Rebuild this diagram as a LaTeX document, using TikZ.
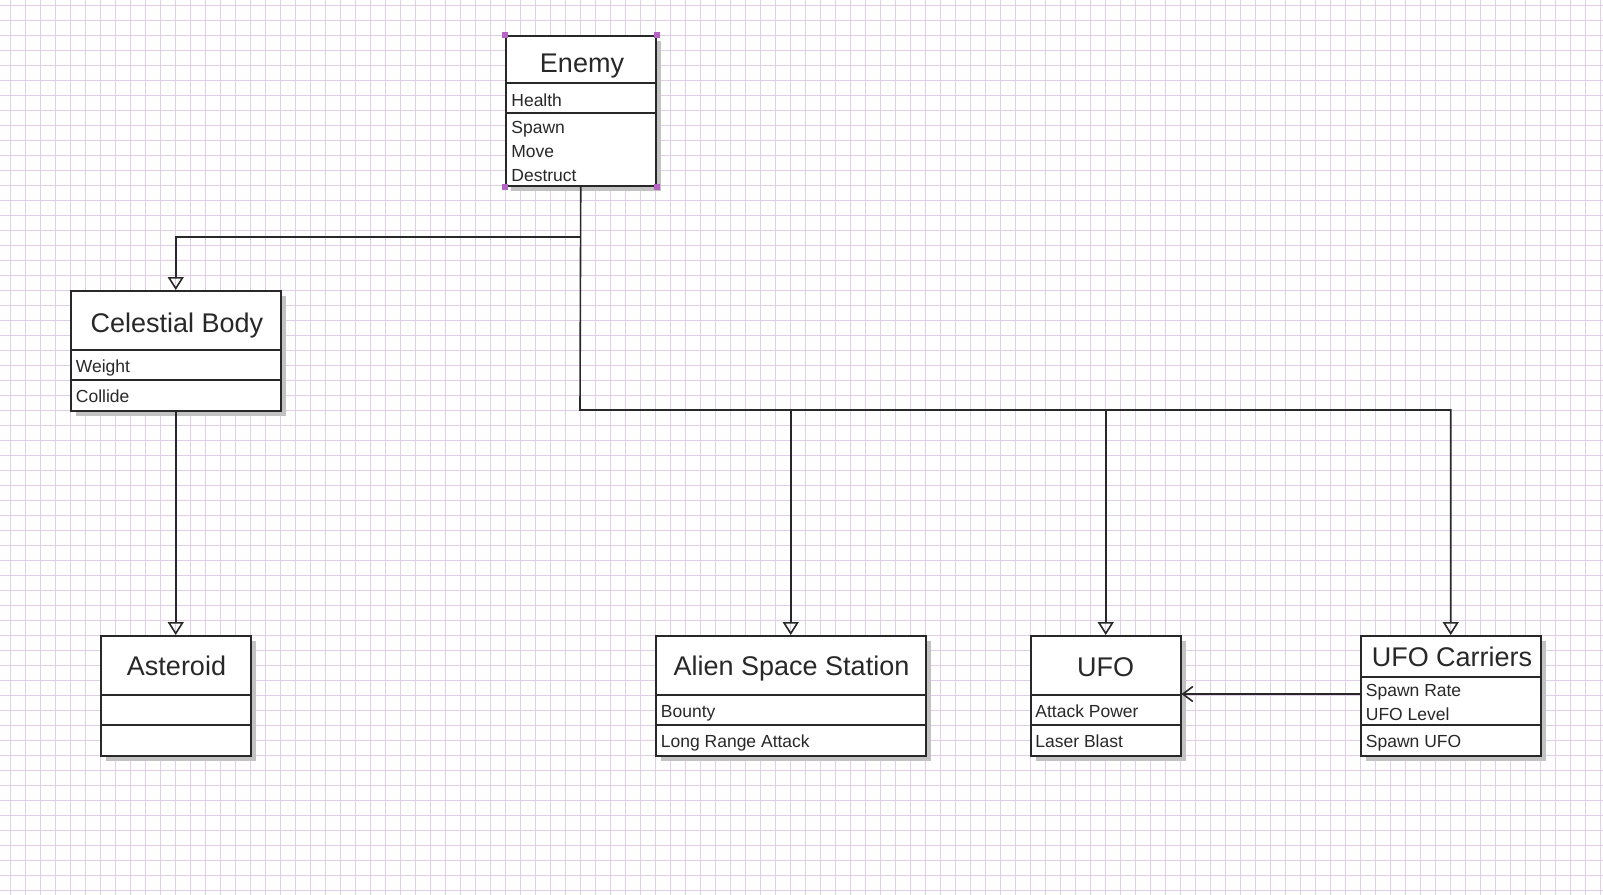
\documentclass[tikz,border=0pt]{standalone}
\usepackage{fontspec}
\setmainfont{Liberation Sans}
\usetikzlibrary{arrows.meta,shadows,positioning}

\definecolor{gridpurple}{RGB}{222,206,230}
\definecolor{handlepurple}{RGB}{182,100,196}
\definecolor{inktext}{RGB}{40,40,40}

\begin{document}
\begin{tikzpicture}[x=0.5pt,y=-0.5pt,
    gridline/.style={draw=gridpurple,line width=0.5pt},
    classbox/.style={draw=inktext,line width=0.75pt,fill=white,inner sep=0pt,anchor=north west,
        drop shadow={shadow xshift=2.6pt,shadow yshift=-2.6pt,fill=black!24,opacity=1}},
    classline/.style={draw=inktext,line width=0.75pt},
    classname/.style={anchor=base,inner sep=0pt,text=inktext,font=\fontsize{13.5pt}{16pt}\selectfont},
    member/.style={anchor=base west,inner sep=0pt,text=inktext,font=\fontsize{8.75pt}{10pt}\selectfont},
    inherit/.style={draw=inktext,line width=0.8pt,-{Triangle[open,length=6.5pt,width=8pt]}},
    assoc/.style={draw=inktext,line width=0.8pt,-{Straight Barb[length=5pt,width=7.5pt]}},
    handle/.style={fill=handlepurple,minimum size=3pt,inner sep=0pt}]

\useasboundingbox (0,0) rectangle (1603,895);
\fill[white] (0,0) rectangle (1603,895);
\foreach \x in {10,25,...,1600} \draw[gridline] (\x,0) -- (\x,895);
\foreach \y in {5,20,...,890} \draw[gridline] (0,\y) -- (1603,\y);

% classes
\node[classbox,minimum width=75pt,minimum height=75pt] (enemy) at (505,35) {};
\draw[classline] (505,83) -- (655,83);
\draw[classline] (505,113) -- (655,113);
\node[classname] (enemyname) at (582,72) {Enemy};
\node[member] (health) at (511,106) {Health};
\node[member] (spawn) at (511,133) {Spawn};
\node[member] (move) at (511,157) {Move};
\node[member] (destruct) at (511,181) {Destruct};

\node[classbox,minimum width=105pt,minimum height=60pt] (celestial) at (70,290) {};
\draw[classline] (70,350) -- (280,350);
\draw[classline] (70,380) -- (280,380);
\node[classname] (celestialname) at (177,332) {Celestial Body};
\node[member] (weight) at (75.5,372.5) {Weight};
\node[member] (collide) at (75.5,402.5) {Collide};

\node[classbox,minimum width=75pt,minimum height=60pt] (asteroid) at (100,635) {};
\draw[classline] (100,695) -- (250,695);
\draw[classline] (100,725) -- (250,725);
\node[classname] (asteroidname) at (176.5,675.5) {Asteroid};

\node[classbox,minimum width=135pt,minimum height=60pt] (station) at (655,635) {};
\draw[classline] (655,695) -- (925,695);
\draw[classline] (655,725) -- (925,725);
\node[classname] (stationname) at (791.5,675.5) {Alien Space Station};
\node[member] (bounty) at (660.5,717.5) {Bounty};
\node[member] (longrange) at (660.5,747.5) {Long Range Attack};

\node[classbox,minimum width=75pt,minimum height=60pt] (ufo) at (1030,635) {};
\draw[classline] (1030,695) -- (1180,695);
\draw[classline] (1030,725) -- (1180,725);
\node[classname] (ufoname) at (1105.5,676) {UFO};
\node[member] (attackpower) at (1035,717.5) {Attack Power};
\node[member] (laserblast) at (1035,747.5) {Laser Blast};

\node[classbox,minimum width=90pt,minimum height=60pt] (carrier) at (1360,635) {};
\draw[classline] (1360,677) -- (1540,677);
\draw[classline] (1360,725) -- (1540,725);
\node[classname] (carriername) at (1452,666.5) {UFO Carriers};
\node[member] (spawnrate) at (1365.5,696.5) {Spawn Rate};
\node[member] (ufolevel) at (1365.5,720.5) {UFO Level};
\node[member] (spawnufo) at (1365.5,747.5) {Spawn UFO};

% selection handles
\foreach \c in {north west,north east,south west,south east}
    \node[handle] at (enemy.\c) {};

% connectors
\coordinate (split) at (580,237);
\coordinate (bus) at (580,410);
\coordinate (carrierin) at (1360,694);
\draw[inherit] (enemy.south) -- (bus) -| (carrier.north);
\draw[inherit] (split) -| (celestial.north);
\draw[inherit] (bus -| station.north) -- (station.north);
\draw[inherit] (bus -| ufo.north) -- (ufo.north);
\draw[inherit] (celestial.south) -- (asteroid.north);
\draw[assoc] (carrierin) -- (carrierin -| ufo.east);

\end{tikzpicture}
\end{document}
